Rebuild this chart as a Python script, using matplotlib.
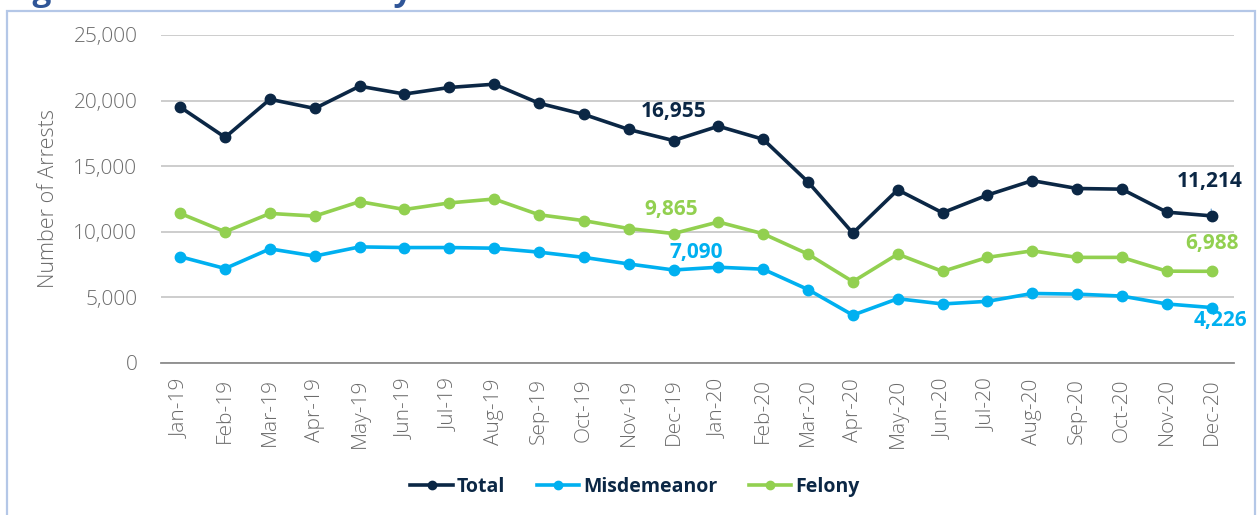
import matplotlib
matplotlib.use("Agg")
import matplotlib.pyplot as plt
from matplotlib.patches import Rectangle

months = ["Jan-19", "Feb-19", "Mar-19", "Apr-19", "May-19", "Jun-19", "Jul-19", "Aug-19",
          "Sep-19", "Oct-19", "Nov-19", "Dec-19", "Jan-20", "Feb-20", "Mar-20", "Apr-20",
          "May-20", "Jun-20", "Jul-20", "Aug-20", "Sep-20", "Oct-20", "Nov-20", "Dec-20"]
total = [19500, 17200, 20100, 19400, 21100, 20500, 21000, 21250, 19800, 18950, 17800, 16955,
         18050, 17050, 13800, 9900, 13200, 11450, 12800, 13900, 13300, 13250, 11500, 11214]
misdemeanor = [8100, 7200, 8700, 8150, 8850, 8800, 8800, 8750, 8450, 8050, 7550, 7090,
               7300, 7150, 5600, 3650, 4900, 4500, 4700, 5300, 5250, 5100, 4500, 4226]
felony = [11400, 10000, 11400, 11200, 12300, 11700, 12200, 12500, 11300, 10850, 10250, 9865,
          10750, 9850, 8300, 6200, 8300, 6980, 8050, 8550, 8050, 8050, 7000, 6988]
yticks = [0, 5000, 10000, 15000, 20000, 25000]

C_TOTAL = "#0b2745"
C_MIS = "#00b0f0"
C_FEL = "#92d050"
GREY = "#6b6b6b"

plt.rcParams['font.family'] = ['Open Sans', 'DejaVu Sans']

W, H = 1257, 515
fig = plt.figure(figsize=(W / 100, H / 100), dpi=100)

# outer frame
fig.patches.append(Rectangle((6.5 / W, -0.05), (1255 - 6.5) / W, 1.05 - 10.5 / H,
                             transform=fig.transFigure, fill=False,
                             edgecolor="#b4c7e7", linewidth=1.6))
# clipped title (only descenders visible)
fig.text(4 / W, 1 + 0.5 / H, "Figure 2: Total Arrests by Month", color="#2f5597",
         fontsize=24, fontweight='bold', va='baseline', ha='left')

ax = fig.add_axes([161 / W, 1 - 363 / H, (1234 - 161) / W, (363 - 35) / H])
x = list(range(len(months)))

ax.plot(x, total, color=C_TOTAL, lw=2.6, marker='o', ms=7.5, label="Total", zorder=5)
ax.plot(x, misdemeanor, color=C_MIS, lw=2.6, marker='o', ms=7.5, label="Misdemeanor", zorder=5)
ax.plot(x, felony, color=C_FEL, lw=2.6, marker='o', ms=7.5, label="Felony", zorder=5)

ax.set_ylim(0, 25000)
ax.set_xlim(-0.43, 23.5)
ax.set_yticks(yticks)
ax.set_yticklabels([f"{v:,}" for v in yticks])
ax.set_xticks(x)
ax.set_xticklabels(months, rotation=90)
ax.tick_params(axis='both', length=0, colors=GREY, labelsize=15)
ax.tick_params(axis='y', pad=17)
ax.tick_params(axis='x', pad=11)
for lab in ax.get_xticklabels() + ax.get_yticklabels():
    lab.set_fontweight('light')

ax.grid(axis='y', color="#c9c9c9", lw=1.3)
ax.set_axisbelow(True)
for s in ['top', 'right', 'left']:
    ax.spines[s].set_visible(False)
ax.spines['bottom'].set_color("#8c8c8c")
ax.spines['bottom'].set_linewidth(1.3)

ax.set_ylabel("Number of Arrests", color=GREY, fontsize=15.5, fontweight='light')
ax.yaxis.set_label_coords((59 - 161) / (1234 - 161), 0.5)

# data labels
def lab(i, series, text, dx, dy, color):
    ax.annotate(text, (i, series[i]), xytext=(dx, dy), textcoords='offset pixels',
                ha='center', va='center', color=color, fontsize=15, fontweight='bold')

lab(11, total, "16,955", 0, 29, C_TOTAL)
lab(11, felony, "9,865", -2, 24, C_FEL)
lab(11, misdemeanor, "7,090", 23, 17, C_MIS)
lab(23, felony, "6,988", 0, 28, C_FEL)
lab(23, misdemeanor, "4,226", 9, -13, C_MIS)
ax.annotate("11,214", (23, total[23]), xytext=(-2, 34), textcoords='offset pixels',
            ha='center', va='center', color=C_TOTAL, fontsize=15, fontweight='bold',
            arrowprops=dict(arrowstyle='-', color="#5b9bd5", lw=0.8, shrinkA=10, shrinkB=2))

leg = ax.legend(loc='center', bbox_to_anchor=(635 / W, 1 - 487 / H), bbox_transform=fig.transFigure,
                ncol=3, frameon=False, fontsize=14, handlelength=2.2, columnspacing=1.6,
                handletextpad=0.2, markerscale=0.8)
for t in leg.get_texts():
    t.set_color(C_TOTAL)
    t.set_fontweight('bold')

fig.savefig("out.png", dpi=100)
